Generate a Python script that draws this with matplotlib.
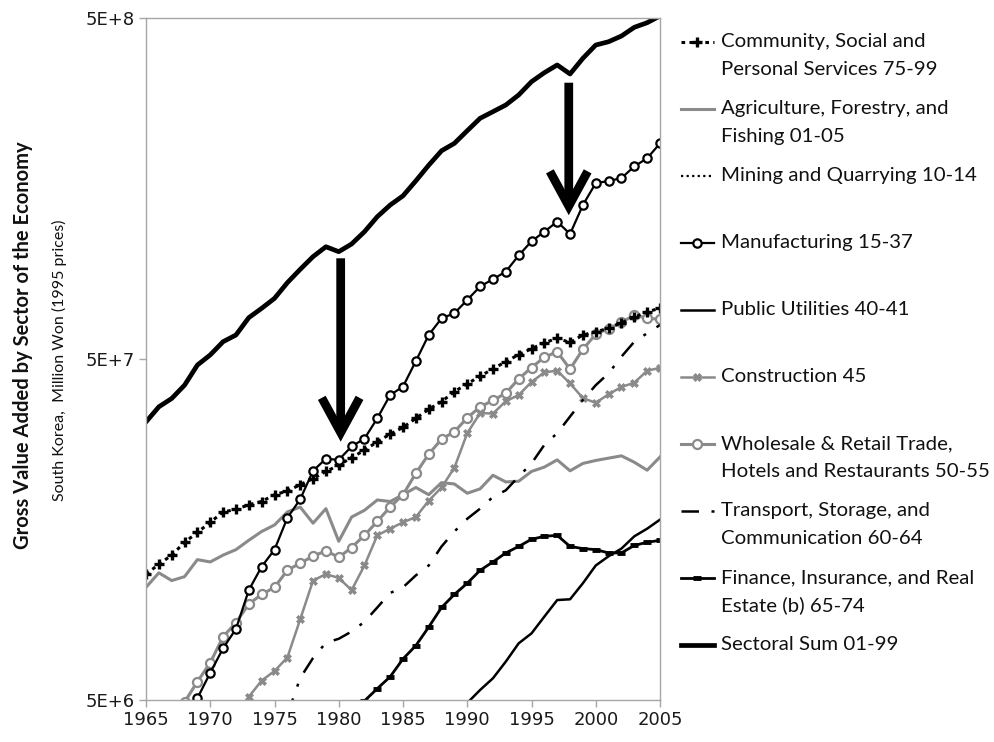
import numpy as np
import matplotlib
matplotlib.use("Agg")
import matplotlib.pyplot as plt
from matplotlib.lines import Line2D
from matplotlib.ticker import FixedLocator, NullLocator

# values, in units of 1E+6 million won (1995 prices)
sum_years = np.arange(1965, 2006)
sectoral_sum = [32.7, 36.2, 38.3, 41.9, 48.0, 51.4, 56.2, 58.8, 66.1, 70.4,
                75.3, 83.7, 91.6, 99.8, 106.7, 103.2, 108.7, 118.1, 130.7, 141.4,
                150.5, 166.5, 185.0, 204.0, 214.5, 233.6, 254.0, 265.6, 277.9, 297.3,
                325.2, 345.6, 364.1, 342.6, 380.9, 416.6, 426.0, 442.7, 469.5, 484.4,
                507.0]

comm_years = np.arange(1965, 2006)
community = [11.7, 12.5, 13.3, 14.5, 15.5, 16.6, 17.8, 18.1, 18.7, 19.1,
             20.0, 20.5, 21.4, 22.3, 23.4, 24.4, 25.7, 27.0, 28.6, 30.1,
             31.5, 33.5, 35.6, 37.5, 40.1, 42.3, 44.5, 46.8, 49.1, 51.5,
             53.6, 55.8, 57.5, 55.9, 58.8, 60.1, 61.5, 63.9, 66.3, 68.8,
             70.4]

agri_years = np.arange(1965, 2006)
agriculture = [10.7, 11.8, 11.2, 11.5, 12.9, 12.7, 13.3, 13.8, 14.7, 15.6,
               16.3, 17.8, 18.4, 16.5, 18.2, 14.6, 17.2, 18.0, 19.3, 19.1,
               20.0, 21.0, 20.0, 21.7, 21.5, 20.2, 20.8, 22.8, 21.8, 21.9,
               23.4, 24.1, 25.3, 23.5, 24.7, 25.2, 25.6, 26.0, 24.9, 23.6,
               25.8]

# mining lies entirely below the 5E+6 floor of the axis, nothing of it shows
mining_years = []
mining = []

mfg_years = np.arange(1968, 2006)
manufacturing = [4.23, 5.06, 6.01, 7.09, 8.08, 10.5, 12.3, 13.8, 17.1, 19.4,
                 23.5, 25.5, 25.3, 27.7, 29.2, 33.5, 39.2, 41.5, 49.3, 58.8,
                 65.8, 68.1, 74.5, 81.6, 85.7, 90.2, 100.6, 110.7, 118.1, 126.4,
                 116.3, 141.4, 164.0, 166.3, 169.6, 183.6, 193.9, 214.5]

util_years = np.arange(1989, 2006)
utilities = [4.37, 4.9, 5.35, 5.79, 6.48, 7.33, 7.84, 8.78, 9.82, 9.87,
             11.0, 12.4, 13.2, 13.9, 15.1, 15.9, 16.9]

cons_years = np.arange(1972, 2006)
construction = [4.52, 5.11, 5.70, 6.08, 6.66, 8.62, 11.2, 11.7, 11.4, 10.5,
                12.4, 15.2, 15.9, 16.6, 17.2, 19.2, 21.0, 24.0, 30.3, 34.7,
                34.6, 37.6, 39.2, 42.8, 45.7, 46.2, 42.4, 38.4, 37.2, 39.4,
                41.4, 42.6, 46.2, 47.1]

trade_years = np.arange(1967, 2006)
trade = [4.23, 4.93, 5.66, 6.43, 7.67, 8.43, 9.56, 10.2, 10.7, 12.0,
         12.6, 13.2, 13.7, 13.1, 14.0, 15.2, 16.7, 18.4, 20.0, 23.1,
         26.3, 29.1, 30.6, 33.6, 36.2, 37.8, 39.7, 43.7, 47.2, 50.6,
         52.5, 46.7, 53.4, 59.1, 61.4, 64.0, 67.3, 65.8, 65.4]

trans_years = np.arange(1976, 2006)
transport = [4.52, 5.80, 6.64, 7.36, 7.56, 7.94, 8.48, 9.34, 10.3, 10.7,
             11.6, 12.4, 14.1, 15.6, 17.0, 18.2, 19.7, 20.6, 22.6, 24.7,
             28.0, 30.3, 33.9, 37.9, 41.9, 45.4, 50.8, 56.2, 59.5, 62.9]

fin_years = np.arange(1981, 2006)
finance = [4.52, 4.97, 5.40, 5.85, 6.60, 7.22, 8.18, 9.34, 10.2, 11.0,
           12.0, 12.7, 13.5, 14.1, 14.8, 15.1, 15.2, 14.1, 13.9, 13.8,
           13.5, 13.5, 14.2, 14.5, 14.7]

labels = ["Community, Social and\nPersonal Services 75-99",
          "Agriculture, Forestry, and\nFishing 01-05",
          "Mining and Quarrying 10-14",
          "Manufacturing 15-37",
          "Public Utilities 40-41",
          "Construction 45",
          "Wholesale & Retail Trade,\nHotels and Restaurants 50-55",
          "Transport, Storage, and\nCommunication 60-64",
          "Finance, Insurance, and Real\nEstate (b) 65-74",
          "Sectoral Sum 01-99"]

GRAY = "#8a8a8a"
styles = [
    dict(color="black", lw=2.2, ls=(0, (1.2, 1.4)), marker="+", ms=7, mew=2.4),
    dict(color=GRAY, lw=2.2, ls="-"),
    dict(color="black", lw=1.6, ls=(0, (1, 1.5))),
    dict(color="black", lw=1.6, ls="-", marker="o", ms=6, mew=1.6, mfc="white"),
    dict(color="black", lw=1.8, ls="-"),
    dict(color=GRAY, lw=1.8, ls="-", marker="X", ms=5.5, mew=0.5),
    dict(color=GRAY, lw=2.2, ls="-", marker="o", ms=6.5, mew=1.6, mfc="white"),
    dict(color="black", lw=1.8, ls=(0, (7, 5, 1.2, 5))),
    dict(color="black", lw=2.0, ls="-", marker="_", ms=6, mew=3.5),
    dict(color="black", lw=3.4, ls="-"),
]

series = [(comm_years, community), (agri_years, agriculture),
          (mining_years, mining), (mfg_years, manufacturing),
          (util_years, utilities), (cons_years, construction),
          (trade_years, trade), (trans_years, transport),
          (fin_years, finance), (sum_years, sectoral_sum)]

W, H = 995, 742
fig = plt.figure(figsize=(W / 100, H / 100), dpi=100)
ax = fig.add_axes([146 / W, 1 - 700 / H, (660 - 146) / W, (700 - 18) / H])

draw_order = [1, 6, 5, 7, 8, 4, 2, 0, 3, 9]
for i in draw_order:
    xs, ys = series[i]
    ax.plot(xs, np.array(ys) * 1e6, **styles[i], solid_joinstyle="round")

ax.set_yscale("log")
ax.set_ylim(5e6, 5e8)
ax.set_xlim(1965, 2005)
ax.yaxis.set_major_locator(FixedLocator([5e6, 5e7, 5e8]))
ax.yaxis.set_minor_locator(NullLocator())
ax.set_yticklabels(["5E+6", "5E+7", "5E+8"])
ax.set_xticks(np.arange(1965, 2006, 5))
for s in ax.spines.values():
    s.set_color("#a6a6a6")
    s.set_linewidth(1.0)
ax.tick_params(axis="both", direction="out", length=5, width=1,
               color="#a6a6a6", labelsize=13, labelcolor="#1a1a1a", pad=3)

# the two arrows pointing at the 1980 and 1998 downturns
arrow_x = [1980.15, 1997.9]
arrow_top = [98.7e6, 323e6]
arrow_tip = [28.6e6, 132e6]
for x, top, tip in zip(arrow_x, arrow_top, arrow_tip):
    ax.annotate("", xy=(x, tip), xytext=(x, top),
                arrowprops=dict(arrowstyle="->,head_length=1.25,head_width=0.68",
                                lw=6.3, color="black", shrinkA=0, shrinkB=0,
                                mutation_scale=20, capstyle="butt",
                                joinstyle="miter"))

fig.text(23 / W, 1 - 345 / H, "Gross Value Added by Sector of the Economy",
         rotation=90, ha="center", va="center", fontsize=14.5,
         fontweight="bold", family="Lato", color="#111111")
fig.text(59 / W, 1 - 360 / H, "South Korea,  Million Won (1995 prices)",
         rotation=90, ha="center", va="center", fontsize=11.5,
         family="Lato", color="#111111")

# legend drawn by hand so the handle sits on the first text line
leg_y0, leg_step, line_gap = 41.7, 67.0, 28.0
for k, (lab, st) in enumerate(zip(labels, styles)):
    y = leg_y0 + k * leg_step
    yf = 1 - y / H
    fig.add_artist(Line2D([681 / W, 697.5 / W, 714 / W], [yf, yf, yf],
                          markevery=[1], **st))
    for j, part in enumerate(lab.split("\n")):
        fig.text(721 / W, 1 - (y + j * line_gap) / H, part, ha="left",
                 va="center", fontsize=14.7, family="Lato", color="#111111")

fig.savefig("out.png", dpi=100, facecolor="white")
